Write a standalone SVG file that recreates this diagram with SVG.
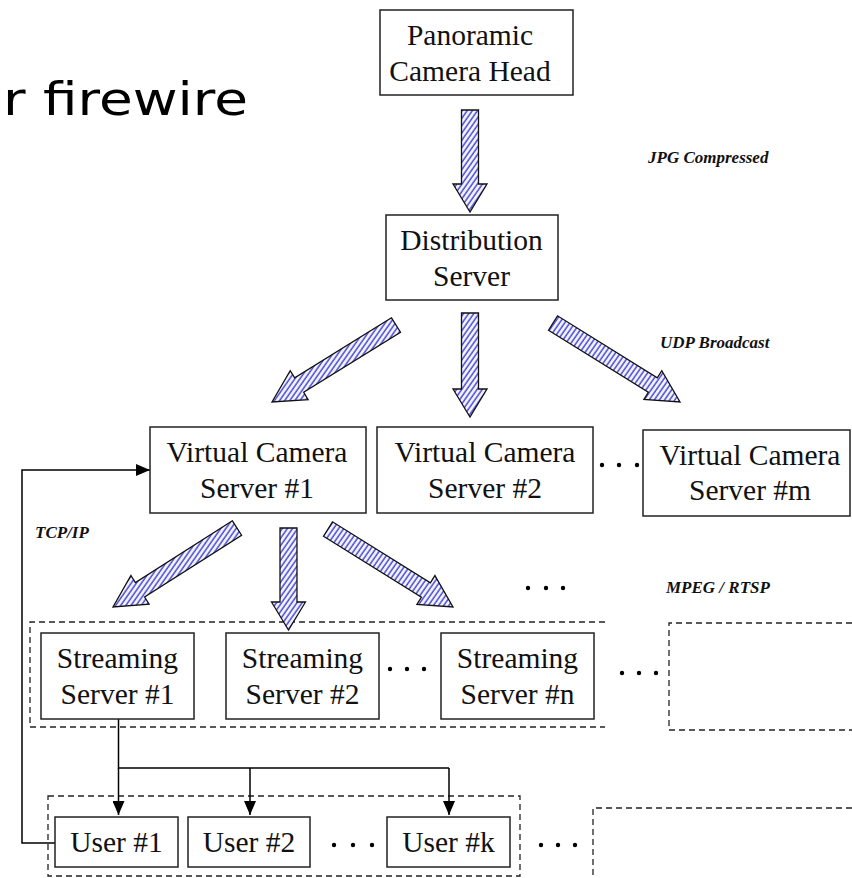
<svg xmlns="http://www.w3.org/2000/svg" width="852" height="878" viewBox="0 0 852 878">
  <defs>
    <pattern id="hatch" patternUnits="userSpaceOnUse" width="4.2" height="4.2" patternTransform="rotate(35)">
      <rect width="4.2" height="4.2" fill="#f4f4ff"/>
      <line x1="1" y1="0" x2="1" y2="4.2" stroke="#4a4ad6" stroke-width="1.5"/>
    </pattern>
    <marker id="ah" viewBox="0 0 14 12" refX="14" refY="6" markerWidth="14" markerHeight="12" markerUnits="userSpaceOnUse" orient="auto">
      <path d="M0,0 L14,6 L0,12 Z" fill="#000"/>
    </marker>
  </defs>
  <style>
    .box { fill: #fff; stroke: #222; stroke-width: 1.5; }
    .t { font-family: "Liberation Serif", "Times New Roman", serif; font-size: 29.5px; fill: #111; text-anchor: middle; }
    .lbl { font-family: "Liberation Serif", "Times New Roman", serif; font-size: 17px; font-style: italic; font-weight: bold; fill: #111; }
    .arr { fill: url(#hatch); stroke: #111; stroke-width: 1.3; stroke-linejoin: miter; }
    .dash { fill: none; stroke: #222; stroke-width: 1.3; stroke-dasharray: 6 4; }
    .ln { fill: none; stroke: #000; stroke-width: 1.5; }
    .dot { fill: #000; }
  </style>
  <rect width="852" height="878" fill="#fff"/>

  <text x="3" y="115" font-family="DejaVu Sans, Verdana, sans-serif" font-size="46" fill="#000" textLength="245" lengthAdjust="spacingAndGlyphs">r firewire</text>

  <!-- labels -->
  <text class="lbl" x="648" y="163">JPG Compressed</text>
  <text class="lbl" x="660" y="348">UDP Broadcast</text>
  <text class="lbl" x="35" y="538">TCP/IP</text>
  <text class="lbl" x="666" y="593">MPEG / RTSP</text>

  <!-- dashed groupings -->
  <path class="dash" d="M605,622 H30 V727 H605"/>
  <path class="dash" d="M852,623 H669 V730 H852"/>
  <rect class="dash" x="48" y="796" width="472" height="80"/>
  <path class="dash" d="M852,808 H593 V878"/>

  <!-- ellipses -->
  <g class="dot">
    <circle cx="602" cy="465" r="2.2"/><circle cx="619" cy="465" r="2.2"/><circle cx="637" cy="465" r="2.2"/>
    <circle cx="528" cy="588" r="2.2"/><circle cx="546" cy="588" r="2.2"/><circle cx="563" cy="588" r="2.2"/>
    <circle cx="390" cy="669" r="2.2"/><circle cx="407" cy="669" r="2.2"/><circle cx="424" cy="669" r="2.2"/>
    <circle cx="622" cy="673" r="2.2"/><circle cx="639" cy="673" r="2.2"/><circle cx="656" cy="673" r="2.2"/>
    <circle cx="334" cy="845" r="2.2"/><circle cx="353" cy="845" r="2.2"/><circle cx="372" cy="845" r="2.2"/>
    <circle cx="541" cy="845" r="2.2"/><circle cx="558" cy="845" r="2.2"/><circle cx="575" cy="845" r="2.2"/>
  </g>

  <!-- connectors -->
  <g id="connectors">
    <polygon class="arr" points="461.5,110 478.5,110 478.5,184 487,184 470,212 453,184 461.5,184"/>
    <polygon class="arr" points="461.5,313 478.5,313 478.5,389 487,389 470,417 453,389 461.5,389"/>
    <polygon class="arr" points="391.5,317.8 294.7,377.9 290.2,370.7 272,402 308.1,399.6 303.7,392.3 400.5,332.2"/>
    <polygon class="arr" points="548.5,330.2 648.3,392.3 643.9,399.5 680,402 661.8,370.7 657.3,377.9 557.5,315.8"/>
    <polygon class="arr" points="280,528 297,528 297,602 305.5,602 288.5,630 271.5,602 280,602"/>
    <polygon class="arr" points="232.4,520.8 135.4,582.6 130.9,575.5 113,607 149.1,604.1 144.6,597 241.6,535.2"/>
    <polygon class="arr" points="323.5,536.2 421.4,597.3 416.9,604.5 453,607 434.9,575.6 430.4,582.8 332.5,521.8"/>

    <path class="ln" d="M118.5,719 V768 H449"/>
    <path class="ln" d="M118.5,768 V815" marker-end="url(#ah)"/>
    <path class="ln" d="M250,768 V815" marker-end="url(#ah)"/>
    <path class="ln" d="M449,768 V815" marker-end="url(#ah)"/>
    <path class="ln" d="M55,843 H22 V470 H150" marker-end="url(#ah)"/>
  </g>

  <!-- nodes -->
  <g id="panoramic">
    <rect class="box" x="380" y="10" width="193" height="85"/>
    <text class="t" x="470" y="45">Panoramic</text>
    <text class="t" x="470" y="81">Camera Head</text>
  </g>
  <g id="distribution">
    <rect class="box" x="386" y="215" width="172" height="85"/>
    <text class="t" x="471.5" y="250">Distribution</text>
    <text class="t" x="471.5" y="286">Server</text>
  </g>
  <g id="vcs1">
    <rect class="box" x="150" y="427" width="216" height="86"/>
    <text class="t" x="257" y="462">Virtual Camera</text>
    <text class="t" x="257" y="498">Server #1</text>
  </g>
  <g id="vcs2">
    <rect class="box" x="377" y="427" width="216" height="86"/>
    <text class="t" x="485" y="462">Virtual Camera</text>
    <text class="t" x="485" y="498">Server #2</text>
  </g>
  <g id="vcsm">
    <rect class="box" x="643" y="430" width="207" height="86"/>
    <text class="t" x="750" y="465">Virtual Camera</text>
    <text class="t" x="750" y="500">Server #m</text>
  </g>
  <g id="ss1">
    <rect class="box" x="41" y="633" width="153" height="86"/>
    <text class="t" x="117.5" y="668">Streaming</text>
    <text class="t" x="117.5" y="704">Server #1</text>
  </g>
  <g id="ss2">
    <rect class="box" x="226" y="633" width="153" height="86"/>
    <text class="t" x="302.5" y="668">Streaming</text>
    <text class="t" x="302.5" y="704">Server #2</text>
  </g>
  <g id="ssn">
    <rect class="box" x="441" y="633" width="153" height="86"/>
    <text class="t" x="517.5" y="668">Streaming</text>
    <text class="t" x="517.5" y="704">Server #n</text>
  </g>
  <g id="user1">
    <rect class="box" x="55" y="817" width="123" height="50"/>
    <text class="t" x="116.5" y="852">User #1</text>
  </g>
  <g id="user2">
    <rect class="box" x="188" y="817" width="122" height="50"/>
    <text class="t" x="249" y="852">User #2</text>
  </g>
  <g id="userk">
    <rect class="box" x="387" y="817" width="123" height="50"/>
    <text class="t" x="448.5" y="852">User #k</text>
  </g>
</svg>
